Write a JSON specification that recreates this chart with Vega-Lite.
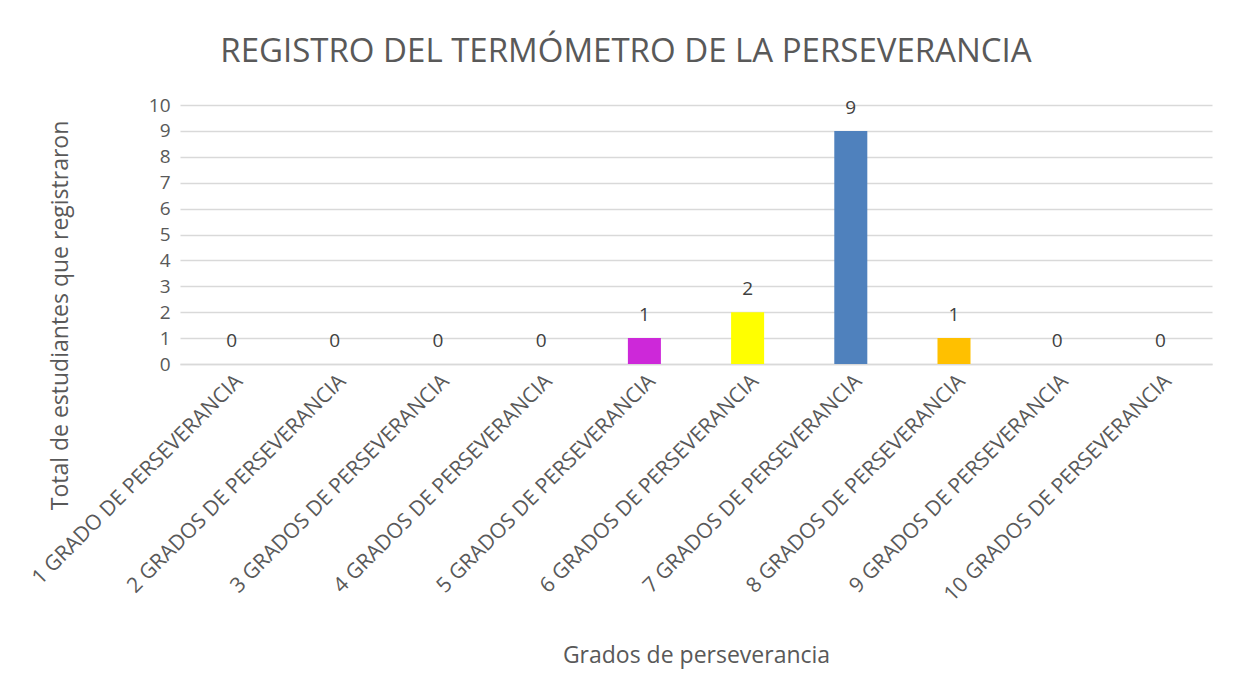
{
  "$schema": "https://vega.github.io/schema/vega-lite/v6.json",
  "autosize": {"type": "none"},
  "width": 1032,
  "height": 259,
  "padding": {"left": 180, "top": 105, "right": 26, "bottom": 334},
  "background": "white",
  "config": {
    "view": {"stroke": null},
    "font": "Open Sans"
  },
  "title": {
    "text": "REGISTRO DEL TERMÓMETRO DE LA  PERSEVERANCIA",
    "fontSize": 33,
    "fontWeight": "normal",
    "color": "#595959",
    "font": "Open Sans",
    "anchor": "middle",
    "offset": -6,
    "dx": -70,
    "baseline": "bottom"
  },
  "data": {
    "values": [
      {"grado": "1 GRADO DE PERSEVERANCIA", "total": 0, "c": "blue"},
      {"grado": "2 GRADOS  DE PERSEVERANCIA", "total": 0, "c": "blue"},
      {"grado": "3 GRADOS  DE PERSEVERANCIA", "total": 0, "c": "blue"},
      {"grado": "4 GRADOS  DE PERSEVERANCIA", "total": 0, "c": "blue"},
      {"grado": "5 GRADOS  DE PERSEVERANCIA", "total": 1, "c": "magenta"},
      {"grado": "6  GRADOS  DE PERSEVERANCIA", "total": 2, "c": "yellow"},
      {"grado": "7  GRADOS  DE PERSEVERANCIA", "total": 9, "c": "blue"},
      {"grado": "8  GRADOS  DE PERSEVERANCIA", "total": 1, "c": "orange"},
      {"grado": "9 GRADOS  DE PERSEVERANCIA", "total": 0, "c": "blue"},
      {"grado": "10  GRADOS  DE PERSEVERANCIA", "total": 0, "c": "blue"}
    ]
  },
  "encoding": {
    "x": {
      "field": "grado",
      "type": "nominal",
      "sort": null,
      "scale": {"paddingInner": 0.68, "paddingOuter": 0.34},
      "axis": {
        "title": "Grados de  perseverancia",
        "titleFontSize": 23,
        "titleFontWeight": "normal",
        "titleColor": "#595959",
        "titleY": 291,
        "titleBaseline": "middle",
        "labelAngle": -45,
        "labelFontSize": 21,
        "labelColor": "#595959",
        "labelPadding": 6,
        "labelLimit": 400,
        "ticks": false,
        "domainColor": "#d9d9d9",
        "domainWidth": 1.5
      }
    },
    "y": {
      "field": "total",
      "type": "quantitative",
      "scale": {"domain": [0, 10], "nice": false},
      "axis": {
        "title": "Total de estudiantes  que registraron",
        "titleFontSize": 23,
        "titleFontWeight": "normal",
        "titleColor": "#595959",
        "titleX": -120,
        "titleY": 210,
        "titleAngle": -90,
        "titleBaseline": "middle",
        "values": [0,1,2,3,4,5,6,7,8,9,10],
        "labelFontSize": 19,
        "labelColor": "#595959",
        "labelPadding": 10,
        "ticks": false,
        "domain": false,
        "gridColor": "#d9d9d9",
        "gridWidth": 1.5
      }
    }
  },
  "layer": [
    {
      "mark": {"type": "bar"},
      "encoding": {
        "color": {
          "field": "c",
          "type": "nominal",
          "scale": {"domain": ["blue", "magenta", "yellow", "orange"], "range": ["#4F81BD", "#CD28D9", "#FFFF00", "#FFC000"]},
          "legend": null
        }
      }
    },
    {
      "mark": {"type": "text", "baseline": "bottom", "dy": -13, "fontSize": 19, "color": "#404040"},
      "encoding": {"text": {"field": "total", "type": "quantitative"}}
    }
  ]
}
